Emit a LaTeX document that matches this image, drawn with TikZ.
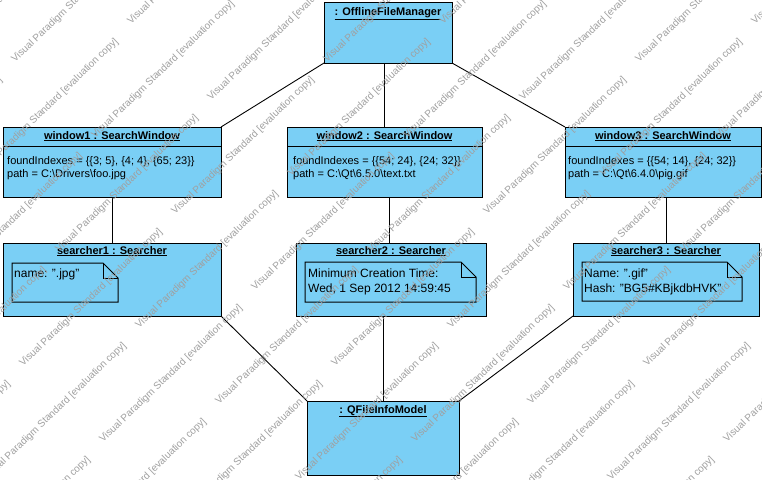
\documentclass[tikz,border=0pt]{standalone}
\usepackage{fontspec}
\setmainfont{Liberation Sans}
\definecolor{objfill}{RGB}{122,207,245}
\definecolor{wmgray}{RGB}{160,160,160}
\begin{document}
\begin{tikzpicture}[x=1pt,y=-1pt,
  obj/.style={draw=black, line width=1pt, fill=objfill, rectangle, anchor=north west, inner sep=0pt, outer sep=0pt},
  ttl/.style={font=\fontsize{11}{13}\selectfont\bfseries, anchor=base, inner sep=0pt},
  attr/.style={font=\fontsize{11}{13}\selectfont, anchor=base west, inner sep=0pt},
  notetxt/.style={font=\fontsize{12}{14}\selectfont, anchor=base west, inner sep=0pt},
  link/.style={draw=black, line width=0.9pt},
  notebox/.style={draw=black, line width=1pt, fill=objfill},
  wm/.style={font=\fontsize{10}{12}\selectfont, text=wmgray, rotate=44, anchor=base west, inner sep=0pt}]
\useasboundingbox (0,0) rectangle (762,479);
\fill[white] (0,0) rectangle (762,479);

% objects
\node[obj, minimum width=128pt, minimum height=61pt] (ofm) at (324,2) {};
\node[obj, minimum width=218pt, minimum height=70pt] (w1) at (3,127) {};
\node[obj, minimum width=195pt, minimum height=70pt] (w2) at (287,127) {};
\node[obj, minimum width=196pt, minimum height=70pt] (w3) at (565,127) {};
\node[obj, minimum width=218pt, minimum height=73pt] (s1) at (3,243) {};
\node[obj, minimum width=190pt, minimum height=73pt] (s2) at (296,243) {};
\node[obj, minimum width=186pt, minimum height=73pt] (s3) at (573,243) {};
\node[obj, minimum width=152pt, minimum height=74pt] (q) at (307,401) {};

% compartment lines
\draw[line width=1pt] ([yshift=-19pt]w1.north west) -- ([yshift=-19pt]w1.north east);
\draw[line width=1pt] ([yshift=-19pt]w2.north west) -- ([yshift=-19pt]w2.north east);
\draw[line width=1pt] ([yshift=-19pt]w3.north west) -- ([yshift=-19pt]w3.north east);

% titles
\node[ttl] (ofmt) at (388,15) {\underline{: OfflineFileManager}};
\node[ttl] (w1t) at (112,139) {\underline{window1 : SearchWindow}};
\node[ttl] (w2t) at (384.5,139) {\underline{window2 : SearchWindow}};
\node[ttl] (w3t) at (663,139) {\underline{window3 : SearchWindow}};
\node[ttl] (s1t) at (112,254) {\underline{searcher1 : Searcher}};
\node[ttl] (s2t) at (391,254) {\underline{searcher2 : Searcher}};
\node[ttl] (s3t) at (666,254) {\underline{searcher3 : Searcher}};
\node[ttl] (qt) at (383,413) {\underline{: QFileInfoModel}};

% attributes
\node[attr] (w1a) at (7,164) {foundIndexes = \{\{3; 5\}, \{4; 4\}, \{65; 23\}\}};
\node[attr] (w1b) at (7,177) {path = C:\textbackslash Drivers\textbackslash foo.jpg};
\node[attr] (w2a) at (293,164) {foundIndexes = \{\{54; 24\}, \{24; 32\}\}};
\node[attr] (w2b) at (293,177) {path = C:\textbackslash Qt\textbackslash 6.5.0\textbackslash text.txt};
\node[attr] (w3a) at (568,164) {foundIndexes = \{\{54; 14\}, \{24; 32\}\}};
\node[attr] (w3b) at (568,177) {path = C:\textbackslash Qt\textbackslash 6.4.0\textbackslash pig.gif};

% notes
\draw[notebox] (12,263) -- (103,263) -- (118,278) -- (118,302) -- (12,302) -- cycle;
\draw[line width=1pt] (103,263) -- (103,278) -- (118,278);
\draw[notebox] (305,262) -- (461,262) -- (476,277) -- (476,302) -- (305,302) -- cycle;
\draw[line width=1pt] (461,262) -- (461,277) -- (476,277);
\draw[notebox] (582,262) -- (727,262) -- (742,277) -- (742,301) -- (582,301) -- cycle;
\draw[line width=1pt] (727,262) -- (727,277) -- (742,277);

\node[notetxt] (n1) at (14,277) {name: ".jpg"};
\node[notetxt] (n2a) at (308,277) {Minimum Creation Time:};
\node[notetxt] (n2b) at (308,292) {Wed, 1 Sep 2012 14:59:45};
\node[notetxt] (n3a) at (584,277) {Name: ".gif"};
\node[notetxt] (n3b) at (584,292) {Hash: "BG5\#KBjkdbHVK"};

% links
\draw[link] (ofm.south west) -- (w1.north east);
\draw[link] (w2.north) -- (w2.north |- ofm.south);
\draw[link] (ofm.south east) -- (w3.north west);
\draw[link] (w1.south) -- (s1.north);
\coordinate (c2) at ([xshift=4.5pt]w2.south);
\draw[link] (c2) -- (c2 |- s2.north);
\draw[link] (s3.north) -- (s3.north |- w3.south);
\draw[link] (s1.south east) -- (q.north west);
\draw[link] (q.north) -- (q.north |- s2.south);
\draw[link] (s3.south west) -- (q.north east);

% watermark (evaluation copy), drawn over everything
\begin{scope}
\clip (0,0) rectangle (762,479);
\foreach \m in {-4,...,9}{
  \foreach \n in {-6,...,4}{
    \pgfmathsetmacro\wx{103+116*\m+80*\n}
    \pgfmathsetmacro\wy{443-38*\m+76*\n}
    \pgfmathtruncatemacro\ok{and(and(\wx<762,\wx>-142),and(\wy>0,\wy<615))}
    \ifnum\ok=1
      \node[wm] (wm\m\n) at (\wx pt,-\wy pt) {Visual Paradigm Standard [evaluation copy]};
    \fi
  }
}
\end{scope}
\end{tikzpicture}
\end{document}
